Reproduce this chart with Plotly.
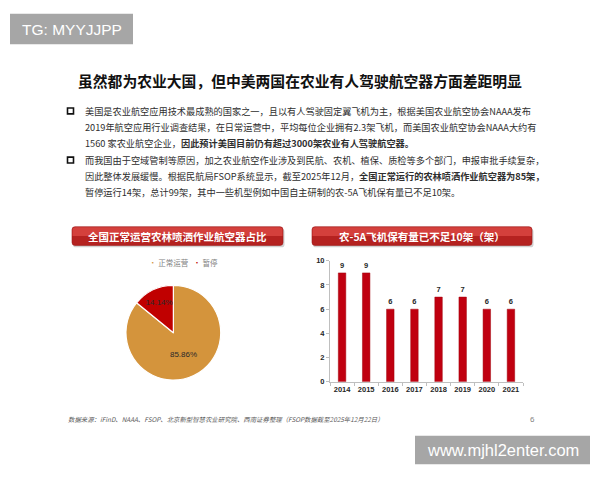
import plotly.graph_objects as go

W, H = 600, 480

# ---------------- data ----------------
pie_labels = ["正常运营", "暂停"]
pie_values = [85, 14]
pie_colors = ["#D4943C", "#C00000"]

bar_years = ["2014", "2015", "2016", "2017", "2018", "2019", "2020", "2021"]
bar_values = [9, 9, 6, 6, 7, 7, 6, 6]

title_text = "虽然都为农业大国，但中美两国在农业有人驾驶航空器方面差距明显"
bullet_lines = [
    "美国是农业航空应用技术最成熟的国家之一，且以有人驾驶固定翼飞机为主，根据美国农业航空协会NAAA发布",
    "2019年航空应用行业调查结果，在日常运营中，平均每位企业拥有2.3架飞机，而美国农业航空协会NAAA大约有",
    "1560 家农业航空企业，<b>因此预计美国目前仍有超过3000架农业有人驾驶航空器。</b>",
    "而我国由于空域管制等原因，加之农业航空作业涉及到民航、农机、植保、质检等多个部门，申报审批手续复杂，",
    "因此整体发展缓慢。根据民航局FSOP系统显示，截至2025年12月，<b>全国正常运行的农林喷洒作业航空器为85架，</b>",
    "暂停运行14架，总计99架，其中一些机型例如中国自主研制的农-5A飞机保有量已不足10架。",
]
pie_header = "全国正常运营农林喷洒作业航空器占比"
bar_header = "农-5A飞机保有量已不足10架（架）"
footer_text = "数据来源：iFinD、NAAA、FSOP、北京新型智慧农业研究院、西南证券整理（FSOP数据截至2025年12月22日）"
page_no = "6"
wm_top = "TG: MYYJJPP"
wm_bottom = "www.mjhl2enter.com"

CJK = "Noto Sans CJK SC"
LAT = "Liberation Sans"


def X(px):
    return px / W


def Y(py):
    return 1 - py / H


def rrect_path(x0, y0, x1, y1, r, top_only=False):
    rx, ry = r / W, r / H
    a0, a1 = X(x0), X(x1)
    b0, b1 = Y(y0), Y(y1)  # b0 top (larger), b1 bottom
    if top_only:
        return (f"M{a0},{b1} L{a0},{b0 - ry} Q{a0},{b0} {a0 + rx},{b0} "
                f"L{a1 - rx},{b0} Q{a1},{b0} {a1},{b0 - ry} L{a1},{b1} Z")
    return (f"M{a0 + rx},{b0} L{a1 - rx},{b0} Q{a1},{b0} {a1},{b0 - ry} "
            f"L{a1},{b1 + ry} Q{a1},{b1} {a1 - rx},{b1} L{a0 + rx},{b1} "
            f"Q{a0},{b1} {a0},{b1 + ry} L{a0},{b0 - ry} Q{a0},{b0} {a0 + rx},{b0} Z")


fig = go.Figure()

# pie
fig.add_trace(go.Pie(
    labels=pie_labels, values=pie_values, sort=False, direction="clockwise",
    marker=dict(colors=pie_colors, line=dict(color="white", width=1.2)),
    texttemplate="%{percent:.2%}", textposition="inside",
    insidetextorientation="horizontal",
    textfont=dict(family=LAT, size=8, color="#2a2a2a"),
    domain=dict(x=[X(125), X(221.7)], y=[Y(383.3), Y(286.7)]),
    showlegend=False, hoverinfo="label+percent",
))

# bars
fig.add_trace(go.Bar(
    x=bar_years, y=bar_values,
    marker=dict(color="#C00010", line=dict(color="#A0000C", width=0.5)),
    text=bar_values, texttemplate="%{y}", textposition="outside",
    textfont=dict(family=LAT, size=7.5, color="#262626", weight="bold"),
    cliponaxis=False, showlegend=False,
    xaxis="x", yaxis="y",
))

shapes = []
annotations = []

# watermarks
shapes.append(dict(type="rect", xref="paper", yref="paper", x0=X(10), x1=X(133), y0=Y(41), y1=Y(10),
                   fillcolor="#A6A6A6", line=dict(width=0), layer="above"))
annotations.append(dict(xref="paper", yref="paper", x=X(71.5), y=Y(25.5), text=wm_top, showarrow=False,
                        font=dict(family=LAT, size=15.5, color="white"), xanchor="center", yanchor="middle"))
shapes.append(dict(type="rect", xref="paper", yref="paper", x0=X(415), x1=X(590), y0=Y(469), y1=Y(440),
                   fillcolor="#A6A6A6", line=dict(width=0), layer="above"))
annotations.append(dict(xref="paper", yref="paper", x=X(502.5), y=Y(454.5), text=wm_bottom, showarrow=False,
                        font=dict(family=LAT, size=16.5, color="white"), xanchor="center", yanchor="middle"))

# title
annotations.append(dict(xref="paper", yref="paper", x=X(299.5), y=Y(77.5), text=f"<b>{title_text}</b>",
                        showarrow=False, font=dict(family=CJK, size=14.8, color="#111111"),
                        xanchor="center", yanchor="middle"))

# bullets
line_y = [109, 125.5, 142, 159, 175.5, 192]
for i, (ly, txt) in enumerate(zip(line_y, bullet_lines)):
    annotations.append(dict(xref="paper", yref="paper", x=X(82.5), y=Y(ly), text=txt, showarrow=False,
                            font=dict(family=CJK, size=9.2, color="#2e2e2e"),
                            xanchor="left", yanchor="middle"))
for by in (line_y[0], line_y[3]):
    shapes.append(dict(type="rect", xref="paper", yref="paper", x0=X(67.5), x1=X(73.5),
                       y0=Y(by + 3), y1=Y(by - 3), line=dict(color="#111111", width=1.6),
                       fillcolor="rgba(0,0,0,0)"))

# section headers
for (x0, x1, txt) in ((72, 283, pie_header), (312, 532, bar_header)):
    shapes.append(dict(type="path", xref="paper", yref="paper", path=rrect_path(x0 + 1, 229, x1 + 1.5, 248, 3),
                       fillcolor="rgba(0,0,0,0.18)", line=dict(width=0)))
    shapes.append(dict(type="path", xref="paper", yref="paper", path=rrect_path(x0, 227, x1, 246, 3),
                       fillcolor="#B52220", line=dict(color="#A01818", width=0.6)))
    shapes.append(dict(type="path", xref="paper", yref="paper", path=rrect_path(x0 + 0.5, 227.5, x1 - 0.5, 236.5, 3, True),
                       fillcolor="#D4403C", line=dict(width=0)))
    annotations.append(dict(xref="paper", yref="paper", x=X((x0 + x1) / 2), y=Y(236.5), text=f"<b>{txt}</b>",
                            showarrow=False, font=dict(family=CJK, size=10.5, color="white"),
                            xanchor="center", yanchor="middle"))

# pie legend
legend_txt = (f"<span style='color:{pie_colors[0]}'>•</span> {pie_labels[0]}   "
              f"<span style='color:{pie_colors[1]}'>•</span> {pie_labels[1]}")
annotations.append(dict(xref="paper", yref="paper", x=X(147), y=Y(263), text=legend_txt, showarrow=False,
                        font=dict(family=CJK, size=7.5, color="#7F7F7F"), xanchor="left", yanchor="middle"))

# footer
annotations.append(dict(xref="paper", yref="paper", x=X(66), y=Y(423), text=f"<i>{footer_text}</i>",
                        showarrow=False, font=dict(family=CJK, size=6.4, color="#595959"),
                        xanchor="left", yanchor="middle"))
annotations.append(dict(xref="paper", yref="paper", x=X(532), y=Y(423), text=page_no, showarrow=False,
                        font=dict(family=LAT, size=8, color="#7F7F7F"), xanchor="center", yanchor="middle"))

fig.update_layout(
    width=W, height=H, margin=dict(l=0, r=0, t=0, b=0),
    paper_bgcolor="white", plot_bgcolor="white",
    shapes=shapes, annotations=annotations,
    bargap=0.69,
    xaxis=dict(domain=[X(330), X(523)], type="category", showline=True, linecolor="#BFBFBF", linewidth=1,
               ticks="outside", tickson="boundaries", ticklen=3, tickcolor="#BFBFBF", tickangle=0,
               tickfont=dict(family=LAT, size=7.5, color="#262626", weight="bold"),
               showgrid=False, zeroline=False, fixedrange=True),
    yaxis=dict(domain=[Y(385), Y(261.7)], range=[0, 10], dtick=2, showline=True, linecolor="#BFBFBF",
               linewidth=1, ticks="outside", ticklen=3, tickcolor="#BFBFBF",
               tickfont=dict(family=LAT, size=7.5, color="#262626", weight="bold"),
               showgrid=False, zeroline=False, fixedrange=True),
)

fig.write_html("out.html")
